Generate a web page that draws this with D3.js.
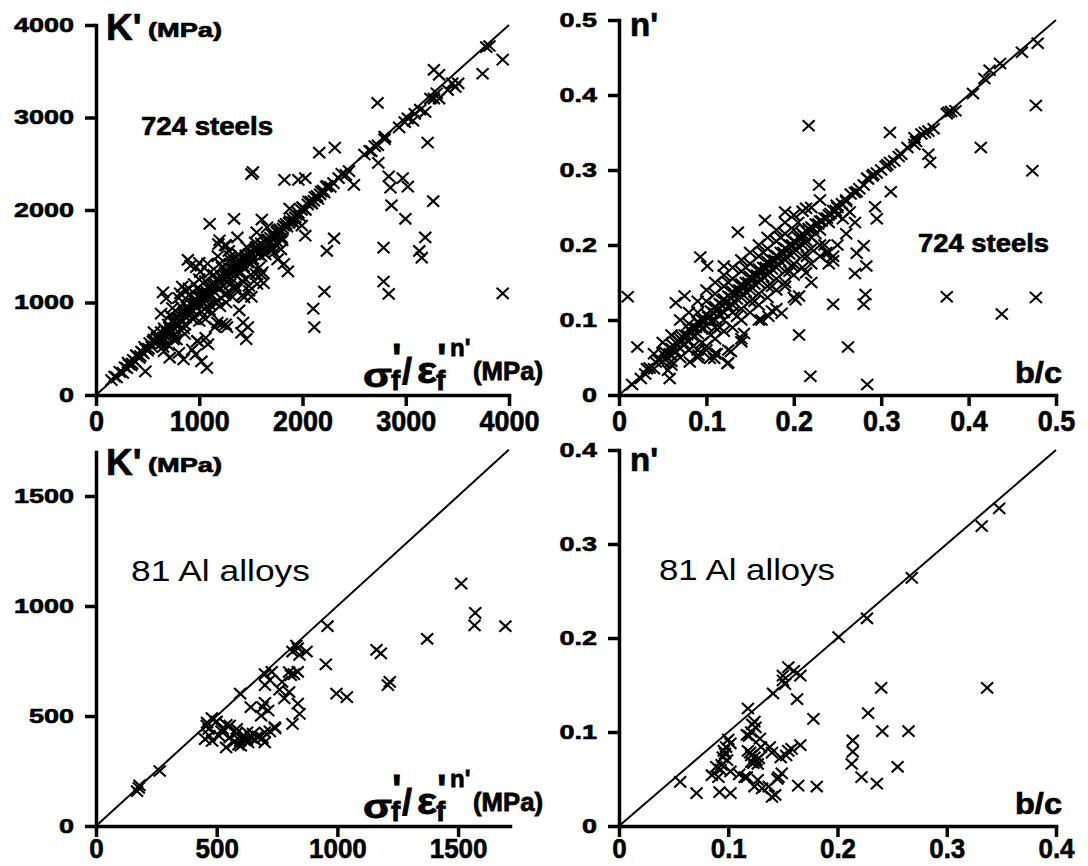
<!DOCTYPE html>
<html>
<head>
<meta charset="utf-8">
<script src="https://cdn.jsdelivr.net/npm/d3@7"></script>
<style>
  body { margin: 0; background: #fff; }
  svg { display: block; background: #fff; }
</style>
</head>
<body>
<svg id="chart" width="1088" height="866"></svg>
<script>
// ===========================
// 1. Data
// ===========================

// Steels: K' (MPa) against sigma'f / eps'f^n' (MPa)
const steelKPoints = [
  [3939,3626],[3744,3473],[3811,3773],[3780,3760],[3273,3516],[3323,3462],[2727,3157],[3239,3205],[3212,2729],[2795,2791],
  [2734,2509],[2835,2363],[2852,2242],[2862,2051],[2970,2344],[3020,2253],[3266,2095],[2997,1905],[3189,1703],[3131,1557],
  [3155,1484],[2785,1593],[2785,1227],[2835,1092],[3939,1099],[2212,1117],[2104,934],[2114,733],[2236,1557],[2306,1692],
  [2162,2619],[2313,2674],[2498,2271],[1505,2388],[1520,2410],[1825,2326],[1960,2326],[2027,2344],[1875,2015],[1993,1832],
  [2027,1722],[1859,1337],[1606,1897],[1101,1850],[1337,1905],[1185,1630],[1286,1557],[1370,1703],[1556,1758],[1657,1813],
  [1724,1538],[1758,1465],[1791,1575],[916,1399],[1000,1429],[680,1044],[630,879],[815,1099],[714,403],[848,385],
  [966,440],[1074,293],[1084,549],[1152,733],[1269,733],[1455,604],[1471,733],[1623,1209],[1505,1062],[1387,916],
  [1219,769],[983,586],[478,256],[649,1109],[835,1171],[890,1462],[971,1382],[1197,1673],[1262,1618],[1424,782],
  [1408,673],[1021,364],[803,455],[658,473],[932,491],[981,582],[1062,618],[1175,782],[1256,764],[1547,1309],
  [1611,1327],[1482,1127],[1434,1055],[1820,1418],[1707,1564],[1804,1673],
  // along the line, upper part
  [2229,2253],[2300,2290],[2350,2344],[2420,2380],[2450,2420],[2599,2600],[2650,2640],[2667,2637],[2700,2690],[2730,2700],
  [2795,2765],[2800,2790],[2936,2893],[2990,2950],[3020,2990],[3070,2967],[3087,3040],[3140,3084],[3189,3060],[3273,3205],
  [3300,3260],[3323,3205],[3407,3297],[3450,3370],[3508,3370],[3480,3330],
  // dense band
  [150,160],[180,200],[200,190],[230,250],[260,240],[280,300],[300,290],[320,330],[340,320],[360,380],
  [380,360],[400,420],[420,400],[440,470],[460,450],[480,500],[500,480],[520,560],[540,520],[560,600],
  [580,560],[600,640],[610,590],[630,680],[650,620],[670,700],[690,660],[700,760],[720,700],[740,790],
  [760,720],[780,830],[790,760],[810,870],[830,800],[850,900],[870,840],[880,950],[900,870],[920,980],
  [940,910],[950,1030],[970,950],[990,1060],[1000,980],[1020,1100],[1040,1000],[1060,1130],[1080,1040],[1100,1170],
  [1110,1080],[1130,1200],[1150,1110],[1170,1250],[1190,1150],[1210,1290],[1230,1180],[1250,1320],[1270,1220],[1290,1370],
  [1310,1260],[1330,1400],[1350,1300],[1370,1440],[1390,1340],[1410,1480],[1430,1390],[1450,1510],[1470,1430],[1500,1550],
  [1520,1470],[1550,1600],[1570,1520],[1600,1640],[1620,1580],[1650,1680],[1680,1640],[1700,1740],[1730,1700],[1760,1780],
  [1790,1760],[1820,1830],[1850,1820],[1880,1880],[1910,1870],[1940,1950],[1970,1940],[2000,2030],[2030,2000],[2060,2090],
  [2090,2070],[2120,2140],[2150,2120],[2180,2200],[2210,2190],[2240,2260],[2270,2250],[2380,2390],
  [310,350],[350,340],[390,430],[430,420],[470,520],[510,500],[550,580],[590,620],[620,600],[660,720],
  [680,640],[710,730],[730,680],[750,800],[770,760],[800,840],[820,820],[840,880],[860,850],[890,920],
  [910,930],[930,1000],[960,990],[980,1020],[1010,1060],[1030,1060],[1050,1100],[1070,1090],[1090,1150],[1120,1150],
  [1140,1180],[1160,1200],[1180,1230],[1200,1240],[1220,1260],[1240,1300],[1260,1280],[1280,1330],[1300,1320],[1320,1370],
  [1340,1360],[1360,1400],[1380,1400],[1400,1440],[1420,1430],[1440,1470],[1460,1480],[1490,1510],[1510,1520],[1540,1560],
  [1560,1570],[1590,1600],[1610,1620],[1640,1650],[1670,1680],[1690,1700],[1720,1730],[1750,1760],[1780,1790],[1810,1800],
  [1840,1850],[1870,1860],[1900,1910],[1930,1920],[1960,1970],[1990,2000],[2020,2010],[2050,2060],[2080,2090],[2110,2100],
  [2140,2150],[2170,2170],[2200,2210],
  // spread around the band
  [560,680],[640,560],[720,860],[760,650],[820,960],[860,760],[900,1080],[940,820],[980,1150],[1020,900],
  [1060,1230],[1100,980],[1140,1300],[1180,1020],[1220,1380],[1260,1100],[1300,1460],[1340,1150],[1380,1520],[1420,1230],
  [1460,1600],[1500,1300],[1540,1650],[1580,1380],[1640,1520],[1700,1600],[1760,1650],[1480,1180],[1420,1080],[1560,1200],
  [1600,1300],[1260,1000],[1320,1060],[1360,1140],[1200,960],[1120,880],[1060,820],[860,660],[780,600],[700,540],
  [1010,1330],[1080,1420],[1180,1500],[1250,1620],[950,1200],[870,1130],[800,1050],[740,940],
  [900,1150],[1000,1250],[1100,1320],[1200,1420],[1300,1500],[1150,1000],[1250,1080],[1350,1180],[1450,1250],[1050,930],
  [950,850],[850,720],[750,600],[650,520],[1000,800],[1100,920],[1300,1200],[1400,1320],[1500,1420],[1600,1500],
  [1700,1560],[1800,1700]
];

// Steels: n' against b/c
const steelNPoints = [
  [0.479,0.469],[0.477,0.386],[0.414,0.330],[0.473,0.299],[0.477,0.130],[0.438,0.108],[0.375,0.131],[0.217,0.359],[0.310,0.350],[0.311,0.271],
  [0.293,0.251],[0.295,0.235],[0.280,0.199],[0.272,0.189],[0.283,0.172],[0.270,0.162],[0.282,0.134],[0.280,0.121],[0.245,0.121],[0.262,0.064],
  [0.206,0.080],[0.219,0.025],[0.284,0.014],[0.010,0.131],[0.021,0.064],[0.058,0.022],[0.056,0.033],[0.136,0.217],[0.229,0.280],[0.245,0.179],
  [0.237,0.190],[0.354,0.321],[0.356,0.310],[0.338,0.343],[0.256,0.235],[0.264,0.244],[0.124,0.042],[0.112,0.055],[0.104,0.049],[0.128,0.058],
  [0.081,0.044],[0.091,0.053],[0.140,0.071],[0.143,0.082],[0.175,0.112],[0.186,0.109],[0.171,0.105],[0.163,0.100],[0.202,0.127],[0.206,0.132],
  [0.214,0.163],[0.198,0.172],[0.190,0.145],[0.217,0.222],[0.214,0.249],[0.190,0.244],[0.167,0.233],[0.120,0.172],[0.093,0.184],[0.075,0.132],
  [0.065,0.123],[0.101,0.172],[0.125,0.043],[0.060,0.045],[0.109,0.049],
  // along the line, upper part
  [0.461,0.457],[0.436,0.442],[0.424,0.433],[0.418,0.422],[0.405,0.402],[0.385,0.379],[0.377,0.377],[0.354,0.352],[0.346,0.348],[0.338,0.334],
  [0.323,0.321],[0.315,0.312],[0.307,0.307],[0.291,0.294],[0.284,0.289],[0.272,0.271],[0.260,0.258],[0.249,0.253],
  // dense band
  [0.015,0.014],[0.025,0.022],[0.030,0.028],[0.035,0.036],[0.040,0.035],[0.045,0.047],[0.050,0.045],[0.050,0.055],[0.055,0.050],[0.060,0.062],
  [0.060,0.052],[0.065,0.070],[0.065,0.058],[0.070,0.075],[0.070,0.062],[0.075,0.080],[0.075,0.068],[0.080,0.088],[0.080,0.072],[0.085,0.090],
  [0.085,0.078],[0.090,0.098],[0.090,0.082],[0.095,0.100],[0.095,0.088],[0.100,0.108],[0.100,0.092],[0.105,0.112],[0.105,0.098],[0.110,0.118],
  [0.110,0.100],[0.115,0.122],[0.115,0.108],[0.120,0.128],[0.120,0.110],[0.125,0.132],[0.125,0.118],[0.130,0.138],[0.130,0.120],[0.135,0.140],
  [0.135,0.128],[0.140,0.148],[0.140,0.130],[0.145,0.150],[0.145,0.138],[0.150,0.158],[0.150,0.140],[0.155,0.160],[0.155,0.148],[0.160,0.168],
  [0.160,0.150],[0.165,0.170],[0.165,0.158],[0.170,0.178],[0.170,0.160],[0.175,0.180],[0.175,0.168],[0.180,0.186],[0.180,0.170],[0.185,0.190],
  [0.185,0.178],[0.190,0.196],[0.190,0.180],[0.195,0.200],[0.195,0.188],[0.200,0.205],[0.200,0.190],[0.205,0.210],[0.205,0.198],[0.210,0.215],
  [0.210,0.200],[0.215,0.218],[0.215,0.205],[0.220,0.224],[0.220,0.210],[0.225,0.228],[0.225,0.215],[0.230,0.232],[0.230,0.220],[0.235,0.236],
  [0.240,0.240],[0.240,0.230],[0.245,0.246],[0.250,0.250],[0.250,0.240],[0.255,0.255],[0.260,0.260],[0.265,0.268],[0.270,0.270],[0.275,0.275],
  [0.280,0.280],[0.285,0.288],[0.290,0.292],[0.295,0.296],[0.300,0.300],[0.305,0.305],[0.310,0.310],[0.320,0.318],[0.330,0.330],[0.340,0.338],
  [0.350,0.350],[0.360,0.355],[0.375,0.375],[0.380,0.378],
  [0.032,0.035],[0.042,0.044],[0.052,0.058],[0.058,0.055],[0.062,0.066],[0.068,0.072],[0.072,0.078],[0.078,0.080],[0.082,0.085],[0.088,0.090],
  [0.092,0.095],[0.098,0.100],[0.102,0.104],[0.108,0.110],[0.112,0.114],[0.118,0.120],[0.122,0.124],[0.128,0.130],[0.132,0.134],[0.138,0.140],
  [0.142,0.144],[0.148,0.150],[0.152,0.154],[0.158,0.160],[0.162,0.164],[0.168,0.170],[0.172,0.174],[0.178,0.180],[0.182,0.184],[0.188,0.190],
  [0.192,0.194],[0.198,0.200],[0.202,0.204],[0.208,0.210],[0.212,0.212],[0.218,0.220],[0.222,0.222],[0.228,0.228],[0.232,0.232],[0.238,0.236],
  [0.242,0.242],[0.248,0.246],
  // spread around the band
  [0.070,0.100],[0.080,0.110],[0.090,0.125],[0.100,0.140],[0.110,0.150],[0.120,0.160],[0.130,0.170],[0.140,0.180],[0.150,0.190],[0.160,0.200],
  [0.170,0.210],[0.180,0.220],[0.190,0.230],[0.200,0.240],[0.210,0.245],[0.220,0.250],[0.230,0.260],[0.090,0.060],[0.100,0.065],[0.110,0.075],
  [0.120,0.085],[0.130,0.090],[0.140,0.100],[0.150,0.110],[0.160,0.120],[0.170,0.130],[0.180,0.140],[0.190,0.150],[0.200,0.160],[0.210,0.170],
  [0.220,0.175],[0.230,0.185],[0.240,0.190],[0.250,0.200],[0.260,0.215],[0.270,0.230],[0.080,0.060],[0.060,0.080],[0.050,0.070],[0.040,0.055],
  [0.125,0.150],[0.145,0.170],[0.165,0.190],[0.185,0.210],[0.205,0.230],[0.135,0.105],[0.155,0.125],[0.175,0.145],[0.195,0.165],[0.215,0.185],
  [0.235,0.200],[0.105,0.080],[0.115,0.090],[0.060,0.040],[0.070,0.050],[0.090,0.050],[0.100,0.060],[0.110,0.055],[0.125,0.060],[0.140,0.075],
  [0.160,0.100],[0.180,0.115],[0.200,0.130],[0.220,0.150],[0.240,0.175],[0.245,0.185],
  [0.100,0.125],[0.110,0.135],[0.120,0.145],[0.130,0.155],[0.140,0.165],[0.150,0.175],[0.160,0.185],[0.170,0.195],[0.180,0.205],[0.190,0.215],
  [0.200,0.220],[0.110,0.090],[0.120,0.100],[0.130,0.110],[0.140,0.115],[0.150,0.125],[0.160,0.135],[0.170,0.145],[0.180,0.155],[0.190,0.165],
  [0.200,0.175],[0.210,0.185],[0.220,0.195],[0.230,0.200],[0.080,0.095],[0.090,0.110],[0.085,0.065],[0.095,0.070]
];

// Al alloys: K' (MPa) against sigma'f / eps'f^n' (MPa)
const alKPoints = [
  [1513,1102],[1571,969],[1568,912],[1696,908],[1372,851],[1162,801],[1180,785],[1217,655],[1209,640],[959,908],
  [952,735],[996,602],[1039,586],[814,793],[836,808],[843,778],[872,793],[807,686],[836,701],[771,655],
  [800,609],[820,690],[836,556],[843,510],[814,464],[597,602],[641,540],[684,502],[713,525],[728,701],
  [720,663],[700,690],[626,426],[699,426],[699,380],[742,444],[670,407],[612,395],[597,387],[554,403],
  [539,357],[510,410],[467,441],[452,395],[481,387],[525,441],[554,456],[496,472],[459,456],[583,441],
  [641,403],[612,410],[570,380],[600,365],[625,395],[650,420],[690,540],[700,560],[780,580],[264,250],
  [177,173],[170,158],[180,185],[460,470],[480,490],[500,475],[520,430],[540,460],[470,410],[590,370],
  [660,390],[720,430],[740,450],[610,400],[630,380],[580,420],[690,400],[800,700],[760,620],[830,820],
  [700,640]
];

// Al alloys: n' against b/c
const alNPoints = [
  [0.348,0.338],[0.332,0.319],[0.268,0.264],[0.227,0.221],[0.201,0.201],[0.337,0.147],[0.240,0.147],[0.228,0.120],[0.241,0.101],[0.265,0.101],
  [0.255,0.063],[0.236,0.045],[0.222,0.052],[0.213,0.066],[0.214,0.079],[0.214,0.091],[0.178,0.114],[0.181,0.042],[0.164,0.043],[0.155,0.169],
  [0.166,0.160],[0.152,0.151],[0.163,0.135],[0.141,0.141],[0.150,0.160],[0.118,0.125],[0.124,0.111],[0.117,0.097],[0.129,0.093],[0.138,0.084],
  [0.124,0.073],[0.120,0.078],[0.126,0.070],[0.153,0.075],[0.158,0.082],[0.166,0.086],[0.102,0.088],[0.095,0.073],[0.094,0.065],[0.102,0.058],
  [0.089,0.063],[0.085,0.054],[0.091,0.052],[0.056,0.047],[0.071,0.035],[0.092,0.036],[0.102,0.035],[0.117,0.052],[0.124,0.042],[0.127,0.049],
  [0.137,0.042],[0.143,0.033],[0.140,0.031],[0.146,0.052],[0.149,0.056],[0.121,0.100],[0.119,0.096],[0.097,0.077],[0.099,0.070],[0.093,0.060],
  [0.127,0.066],[0.121,0.068],[0.130,0.084],[0.115,0.052],[0.110,0.055],[0.131,0.040],[0.125,0.105],[0.122,0.108],[0.098,0.084],[0.145,0.050],
  [0.148,0.073],[0.155,0.080],[0.100,0.092],[0.096,0.080],[0.118,0.080],[0.121,0.075],[0.123,0.067],[0.150,0.155],[0.160,0.165],[0.128,0.072],
  [0.140,0.078]
];

// Reference lines y = x (start, end value)
const steelKDiag = [0, 4000];
const steelNDiag = [0, 0.5];
const alKDiag = [0, 1710];
const alNDiag = [0, 0.4];

// Ticks
const steelKTicks = [0, 1000, 2000, 3000, 4000];
const steelKTickLabels = ["0", "1000", "2000", "3000", "4000"];
const steelNTicks = [0, 0.1, 0.2, 0.3, 0.4, 0.5];
const steelNTickLabels = ["0", "0.1", "0.2", "0.3", "0.4", "0.5"];
const alKTicks = [0, 500, 1000, 1500];
const alKTickLabels = ["0", "500", "1000", "1500"];
const alNTicks = [0, 0.1, 0.2, 0.3, 0.4];
const alNTickLabels = ["0", "0.1", "0.2", "0.3", "0.4"];

// ===========================
// 2. Layout
// ===========================
const FONT = "'Liberation Sans', Arial, Helvetica, sans-serif";
const svg = d3.select("#chart");

const panels = [
  { points: steelKPoints, diag: steelKDiag, xMax: 4000, yMax: 4000,
    xTicks: steelKTicks, xLabels: steelKTickLabels, yTicks: steelKTicks, yLabels: steelKTickLabels,
    left: 96, right: 509, top: 25, bottom: 395, kind: "K", name: "724 steels", nameX: 141, nameY: 135, bold: true, nameLen: 132 },
  { points: steelNPoints, diag: steelNDiag, xMax: 0.5, yMax: 0.5,
    xTicks: steelNTicks, xLabels: steelNTickLabels, yTicks: steelNTicks, yLabels: steelNTickLabels,
    left: 619, right: 1056, top: 20, bottom: 395, kind: "n", name: "724 steels", nameX: 918, nameY: 252, bold: true, nameLen: 131 },
  { points: alKPoints, diag: alKDiag, xMax: 1715, yMax: 1700,
    xTicks: alKTicks, xLabels: alKTickLabels, yTicks: alKTicks, yLabels: alKTickLabels,
    left: 96, right: 510, top: 452, bottom: 826, kind: "K", name: "81 Al alloys", nameX: 131, nameY: 581, bold: false, nameLen: 179 },
  { points: alNPoints, diag: alNDiag, xMax: 0.4, yMax: 0.4,
    xTicks: alNTicks, xLabels: alNTickLabels, yTicks: alNTicks, yLabels: alNTickLabels,
    left: 619, right: 1056, top: 450, bottom: 826, kind: "n", name: "81 Al alloys", nameX: 659, nameY: 580, bold: false, nameLen: 176 }
];

const cross = "M-6,-5.6L6,5.6M-6,5.6L6,-5.6";

function addText(g, str, x, y, size, weight, len) {
  const t = g.append("text")
    .attr("x", x)
    .attr("y", y)
    .attr("font-family", FONT)
    .attr("font-size", size)
    .attr("font-weight", weight)
    .attr("fill", "#000")
    .text(str);
  if (weight === "bold") t.attr("stroke", "#000").attr("stroke-width", 0.7);
  if (len) t.attr("textLength", len).attr("lengthAdjust", "spacingAndGlyphs");
  return t;
}

// sigma'f / eps'f ^ n' (MPa) label as one text with positioned pieces
function stressLabel(g, base) {
  const t = g.append("text")
    .attr("font-family", FONT)
    .attr("font-weight", "bold")
    .attr("fill", "#000")
    .attr("stroke", "#000")
    .attr("stroke-width", 0.8);
  const pieces = [
    ["σ", 363, -8, 33, 29],
    ["'", 392, -23, 40],
    ["f", 391, -5, 28],
    ["/", 402, -11, 36],
    ["ε", 417, -12, 37, 20],
    ["'", 437, -23, 40],
    ["f", 436, -5, 28],
    ["n'", 450, -39, 24],
    ["(MPa)", 473, -15, 25, 70]
  ];
  pieces.forEach(([s, px, dy, size, len]) => {
    const sp = t.append("tspan")
      .attr("x", px)
      .attr("y", base + dy)
      .attr("font-size", size)
      .text(s);
    if (len) sp.attr("textLength", len).attr("lengthAdjust", "spacingAndGlyphs");
  });
}

// ===========================
// 3. Panels
// ===========================
panels.forEach(p => {
  const g = svg.append("g");
  const lower = p.top > 300;

  const x = d3.scaleLinear().domain([0, p.xMax]).range([p.left, p.right]);
  const y = d3.scaleLinear().domain([0, p.yMax]).range([p.bottom, p.top]);

  // y = x reference line
  g.append("line")
    .attr("x1", x(p.diag[0])).attr("y1", y(p.diag[0]))
    .attr("x2", x(p.diag[1])).attr("y2", y(p.diag[1]))
    .attr("stroke", "#000")
    .attr("stroke-width", 2);

  // markers
  g.selectAll(".pt")
    .data(p.points)
    .join("path")
    .attr("class", "pt")
    .attr("d", cross)
    .attr("transform", d => `translate(${x(d[0])},${y(d[1])})`)
    .attr("fill", "none")
    .attr("stroke", "#000")
    .attr("stroke-width", 2.1);

  // X axis
  g.append("g")
    .attr("transform", `translate(0,${p.bottom})`)
    .attr("font-family", FONT)
    .call(d3.axisBottom(x)
      .tickValues(p.xTicks)
      .tickFormat((d, i) => p.xLabels[i])
      .tickSize(11)
      .tickSizeOuter(0)
      .tickPadding(lower ? 1 : 4))
    .call(a => a.select(".domain").attr("stroke-width", 3.5).attr("stroke-linecap", "square"))
    .call(a => a.selectAll(".tick line").attr("stroke-width", 3.5))
    .call(a => a.selectAll(".tick text")
      .attr("font-size", lower ? 28 : 29)
      .attr("font-weight", "bold")
      .attr("fill", "#000")
      .attr("stroke", "#000")
      .attr("stroke-width", 0.6)
      .attr("transform", "scale(0.93,1)"));

  // Y axis
  g.append("g")
    .attr("transform", `translate(${p.left},0)`)
    .attr("font-family", FONT)
    .call(d3.axisLeft(y)
      .tickValues(p.yTicks)
      .tickFormat((d, i) => p.yLabels[i])
      .tickSize(11)
      .tickSizeOuter(0)
      .tickPadding(11))
    .call(a => a.select(".domain").attr("stroke-width", 3.5).attr("stroke-linecap", "square"))
    .call(a => a.selectAll(".tick line").attr("stroke-width", 3.5))
    .call(a => a.selectAll(".tick text")
      .attr("font-size", 27)
      .attr("font-weight", "bold")
      .attr("fill", "#000")
      .attr("stroke", "#000")
      .attr("stroke-width", 0.8)
      .attr("transform", "scale(1,0.75)"));

  // axis titles
  if (p.kind === "K") {
    addText(g, "K'", p.left + 10, p.top + 15 + (lower ? 8 : 0), 37, "bold");
    addText(g, "(MPa)", p.left + 52, p.top + 12 + (lower ? 8 : 0), 20, "bold", 74);
    stressLabel(g, p.bottom);
  } else {
    addText(g, "n'", p.left + 11, p.top + 16 + (lower ? 5 : 0), 33, "bold");
    addText(g, "b/c", 1015, p.bottom - 12, 29, "bold", 47);
  }

  // sample label
  addText(g, p.name, p.nameX, p.nameY, p.bold ? 26 : 29, p.bold ? "bold" : "normal", p.nameLen);
});
</script>
</body>
</html>
